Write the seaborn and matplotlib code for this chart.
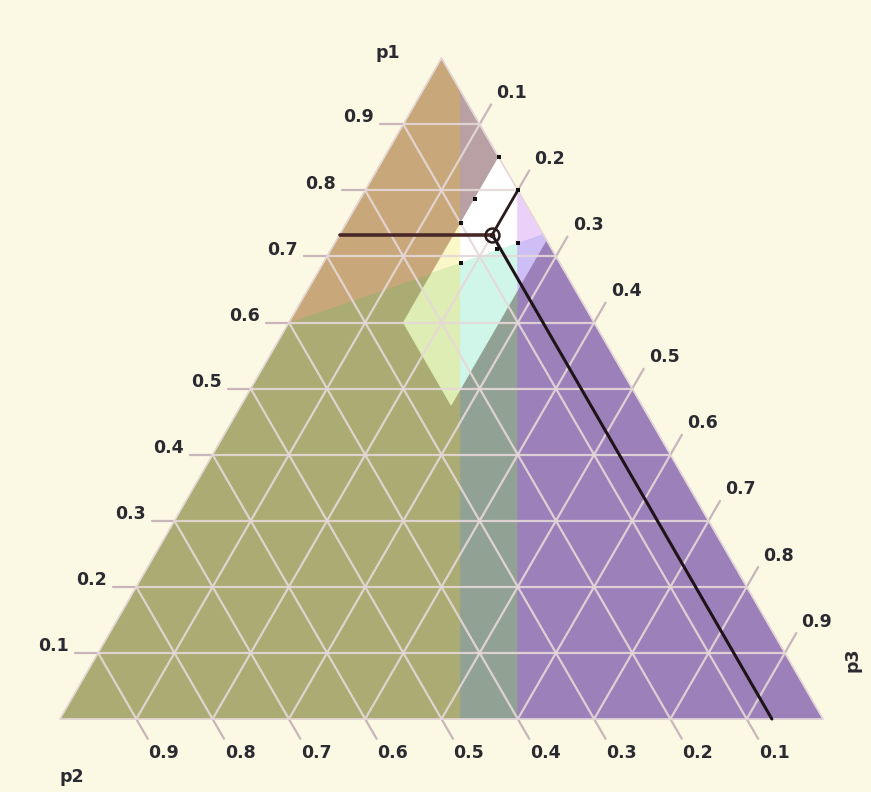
import numpy as np
import matplotlib
matplotlib.use("Agg")
import matplotlib.pyplot as plt
import seaborn as sns
import pandas as pd

# ---------------- data ----------------
tick_values = [0.1, 0.2, 0.3, 0.4, 0.5, 0.6, 0.7, 0.8, 0.9]
tick_labels = ["0.1", "0.2", "0.3", "0.4", "0.5", "0.6", "0.7", "0.8", "0.9"]
axis_names = ["p1", "p2", "p3"]

strip_d = [0.05, 0.20]          # bounds of the middle band, in p3 - p2
band_p3 = [0.15, 0.275]         # bounds of the light band, in p3
band_p2_max = 0.25              # light band also needs p2 <= this
split_a = (0.6, 0.4, 0.0)       # p1/p2 boundary, left-edge end
split_b = (0.733, 0.0, 0.267)   # p1/p2 boundary, right-edge end

point = (0.733, 0.067, 0.2)     # marked mixed strategy (p1, p2, p3)

dots_p1 = [0.85, 0.787, 0.75, 0.80, 0.72, 0.69, 0.711]
dots_p2 = [0.00, 0.063, 0.10, 0.00, 0.04, 0.13, 0.072]
dots_p3 = [0.15, 0.150, 0.15, 0.20, 0.24, 0.18, 0.217]

colors = {
    "bg": "#FBF8E4",
    "olive": "#AAAC73",
    "brown": "#C8A87A",
    "teal": "#91A294",
    "mauve": "#B9A0A5",
    "purple": "#9B80B9",
    "lyellow": "#FAF7C8",
    "lgreen": "#DEEDB4",
    "white": "#FFFFFF",
    "cyan": "#D0F6EA",
    "pink": "#EBD0FA",
    "lavender": "#CDBEF5",
    "grid": "#E6D8D8",
    "tick": "#C9B6BA",
    "text": "#2A2A30",
}

# ---------------- helpers ----------------
S3 = np.sqrt(3) / 2


def to_xy(p):
    p = np.asarray(p, dtype=float)
    return p[..., 2] + p[..., 0] / 2, p[..., 0] * S3


def clip(poly, f):
    out = []
    n = len(poly)
    for i in range(n):
        a, b = poly[i], poly[(i + 1) % n]
        fa, fb = f(a), f(b)
        if fa <= 0:
            out.append(a)
        if fa * fb < 0:
            t = fa / (fa - fb)
            out.append(a + (b - a) * t)
    return out


TRI = [np.array([1.0, 0, 0]), np.array([0, 1.0, 0]), np.array([0, 0, 1.0])]


def region(*fs):
    poly = list(TRI)
    for f in fs:
        poly = clip(poly, f)
        if not poly:
            break
    return poly


def split_g(p):
    ax_, ay_ = to_xy(split_a)
    bx_, by_ = to_xy(split_b)
    px_, py_ = to_xy(p)
    return (bx_ - ax_) * (py_ - ay_) - (by_ - ay_) * (px_ - ax_)


s_apex = np.sign(split_g(TRI[0]))
above = lambda p: -s_apex * split_g(p)
below = lambda p: s_apex * split_g(p)
left_v1 = lambda p: (p[2] - p[1]) - strip_d[0]
right_v1 = lambda p: strip_d[0] - (p[2] - p[1])
left_v2 = lambda p: (p[2] - p[1]) - strip_d[1]
right_v2 = lambda p: strip_d[1] - (p[2] - p[1])
p3_lo = lambda p: p[2] - band_p3[0]          # p3 <= 0.15
band1 = lambda p: band_p3[0] - p[2]          # p3 >= 0.15
band2 = lambda p: p[2] - band_p3[1]          # p3 <= 0.275
band3 = lambda p: p[1] - band_p2_max         # p2 <= 0.25

# ---------------- figure ----------------
sns.set_theme(style="white")
plt.rcParams["font.family"] = ["DejaVu Sans"]

W, H = 871, 792
fig = plt.figure(figsize=(W / 100, H / 100), dpi=100, facecolor=colors["bg"])
ax = fig.add_axes([0, 0, 1, 1])
ax.set_facecolor(colors["bg"])
U = 763.0
ax.set_xlim(-60 / U, (W - 60) / U)
ax.set_ylim(-(H - 719) / U, 719 / U)
ax.set_axis_off()

layers = [
    (region(left_v1), "olive"),
    (region(left_v1, above), "brown"),
    (region(right_v1, left_v2), "teal"),
    (region(right_v1, left_v2, p3_lo), "mauve"),
    (region(right_v2), "purple"),
    (region(band1, band2, band3, left_v1, above), "lyellow"),
    (region(band1, band2, band3, left_v1, below), "lgreen"),
    (region(band1, band2, band3, right_v1, left_v2, above), "white"),
    (region(band1, band2, band3, right_v1, left_v2, below), "cyan"),
    (region(band1, band2, band3, right_v2, above), "pink"),
    (region(band1, band2, band3, right_v2, below), "lavender"),
]
for poly, c in layers:
    if len(poly) < 3:
        continue
    xs, ys = to_xy(np.array(poly))
    ax.fill(xs, ys, color=colors[c], lw=0.6, ec=colors[c], zorder=1)

# grid lines and tick extensions
ext = 0.03
for k in tick_values:
    # p1 = k : horizontal
    x0, y0 = to_xy((k, 1 - k, 0))
    x1, y1 = to_xy((k, 0, 1 - k))
    ax.plot([x0, x1], [y0, y1], color=colors["grid"], lw=1.6, alpha=0.9, zorder=2)
    ax.plot([x0 - ext, x0], [y0, y0], color=colors["tick"], lw=1.6, zorder=2)
    # p2 = k : parallel to right edge
    x0, y0 = to_xy((0, k, 1 - k))
    x1, y1 = to_xy((1 - k, k, 0))
    ax.plot([x0, x1], [y0, y1], color=colors["grid"], lw=1.6, alpha=0.9, zorder=2)
    ax.plot([x0, x0 + ext * 0.5], [y0, y0 - ext * S3], color=colors["tick"], lw=1.6, zorder=2)
    # p3 = k : parallel to left edge
    x0, y0 = to_xy((0, 1 - k, k))
    x1, y1 = to_xy((1 - k, 0, k))
    ax.plot([x0, x1], [y0, y1], color=colors["grid"], lw=1.6, alpha=0.9, zorder=2)
    ax.plot([x1, x1 + ext * 0.5], [y1, y1 + ext * S3], color=colors["tick"], lw=1.6, zorder=2)

# triangle outline
tx, ty = to_xy(np.array(TRI + [TRI[0]]))
ax.plot(tx, ty, color=colors["grid"], lw=1.2, zorder=2)

# tick labels
fs = 12.5
fw = "bold"
for k, lab in zip(tick_values, tick_labels):
    x0, y0 = to_xy((k, 1 - k, 0))
    ax.text(x0 - ext - 0.008, y0 + 0.009, lab, ha="right", va="center",
            fontsize=fs, color=colors["text"], fontweight=fw)
    x0, y0 = to_xy((0, k, 1 - k))
    ax.text(x0 + 0.036, y0 - 0.045, lab, ha="center", va="center",
            fontsize=fs, color=colors["text"], fontweight=fw)
    x1, y1 = to_xy((1 - k, 0, k))
    ax.text(x1 + 0.042, y1 + 0.041, lab, ha="center", va="center",
            fontsize=fs, color=colors["text"], fontweight=fw)

ax.text(0.43, 0.873, axis_names[0], ha="center", va="center", fontsize=fs,
        color=colors["text"], fontweight=fw)
ax.text(0.016, -0.076, axis_names[1], ha="center", va="center", fontsize=fs,
        color=colors["text"], fontweight=fw)
ax.text(1.039, 0.077, axis_names[2], ha="center", va="center", fontsize=fs,
        color=colors["text"], rotation=90, fontweight=fw)

# lines from the marked point to the three edges
pp1, pp2, pp3 = point
segs = {
    "p1": [(pp1, 1 - pp1, 0.0), point],
    "p3": [point, (1 - pp3, 0.0, pp3)],
    "p2": [point, (0.0, pp2, 1 - pp2)],
}
seg_rows = []
for name, (a, b) in segs.items():
    for q in (a, b):
        qx, qy = to_xy(q)
        seg_rows.append({"seg": name, "x": float(qx), "y": float(qy)})
seg_df = pd.DataFrame(seg_rows)
sns.lineplot(data=seg_df[seg_df.seg == "p1"], x="x", y="y", color="#4A2828", lw=2.6,
             sort=False, ax=ax, zorder=4)
sns.lineplot(data=seg_df[seg_df.seg == "p3"], x="x", y="y", color="#2A1C1C", lw=2.0,
             sort=False, ax=ax, zorder=4)
sns.lineplot(data=seg_df[seg_df.seg == "p2"], x="x", y="y", color="#1E1418", lw=2.2,
             sort=False, ax=ax, zorder=4)

# small dots
dx, dy = to_xy(np.column_stack([dots_p1, dots_p2, dots_p3]))
dots_df = pd.DataFrame({"x": dx, "y": dy})
sns.scatterplot(data=dots_df, x="x", y="y", color="#111111", s=9, marker="s",
                linewidth=0, ax=ax, zorder=5)

# marked point
px_, py_ = to_xy(point)
ax.plot([px_], [py_], marker="o", ms=10, mfc="none", mec="#2A1C1C", mew=1.8, zorder=6)
ax.plot([px_], [py_], marker="o", ms=3, color="#2A1C1C", zorder=6)

ax.set_xlabel("")
ax.set_ylabel("")
fig.savefig("out.png", dpi=100, facecolor=colors["bg"])
